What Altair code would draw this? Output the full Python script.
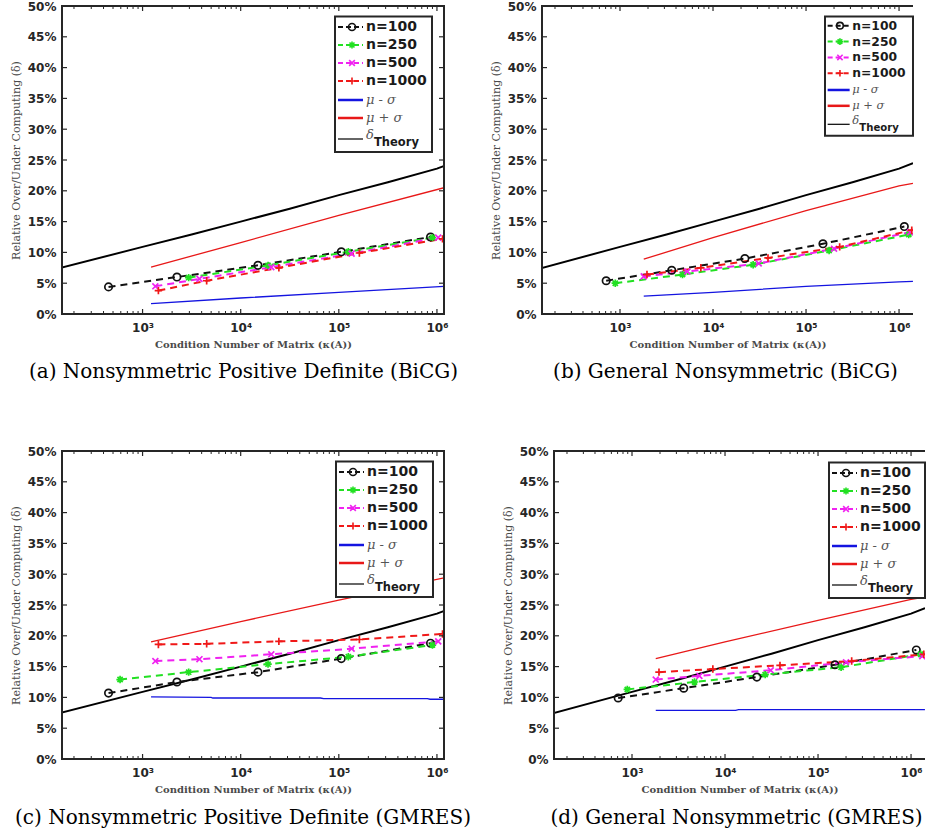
import altair as alt
import pandas as pd

# ---------------- data ----------------
SERIES = ["n=100", "n=250", "n=500", "n=1000"]
SERIES_COLORS = ["#111111", "#22e022", "#f022f0", "#f01818"]
SERIES_SHAPES = [
    "circle",
    "M-1,0L1,0M0,-1L0,1M-0.7,-0.7L0.7,0.7M-0.7,0.7L0.7,-0.7",
    "M-0.8,-0.8L0.8,0.8M-0.8,0.8L0.8,-0.8",
    "M-1,0L1,0M0,-1L0,1",
]
X_TICKS = [1e3, 1e4, 1e5, 1e6]
Y_TICKS = [0, 5, 10, 15, 20, 25, 30, 35, 40, 45, 50]
CAPTIONS = [
    "(a) Nonsymmetric Positive Definite (BiCG)",
    "(b) General Nonsymmetric (BiCG)",
    "(c) Nonsymmetric Positive Definite (GMRES)",
    "(d) General Nonsymmetric (GMRES)",
]

# condition numbers of the test matrices
K_AC_100 = [450, 2240, 15000, 106000, 860000]
K_AC_250 = [590, 2950, 19000, 125000, 900000]
K_AC_500 = [1350, 3800, 20500, 135000, 1030000]
K_AC_1000 = [1450, 4500, 24500, 162000, 1140000]
K_BD_100 = [710, 3600, 22000, 152000, 1140000]
K_BD_250 = [890, 4700, 27000, 177000, 1270000]
K_BD_500 = [1800, 5300, 31000, 200000, 1320000]
K_BD_1000 = [1950, 7400, 39000, 230000, 1370000]

# relative over/under computing (%)
A_100 = [4.4, 6.0, 7.9, 10.1, 12.5]
A_250 = [None, 5.9, 7.9, 10.1, 12.4]
A_500 = [4.5, 5.7, 7.6, 9.8, 12.4]
A_1000 = [3.8, 5.4, 7.5, 9.9, 12.2]
B_100 = [5.4, 7.1, 9.0, 11.4, 14.2]
B_250 = [5.0, 6.4, 8.0, 10.3, 12.9]
B_500 = [6.1, 6.9, 8.2, 10.6, 13.3]
B_1000 = [6.4, 7.5, 9.1, 10.9, 13.6]
C_100 = [10.7, 12.5, 14.1, 16.3, 18.8]
C_250 = [12.9, 14.1, 15.4, 16.6, 18.5]
C_500 = [15.9, 16.2, 17.0, 17.9, 19.1]
C_1000 = [18.6, 18.7, 19.1, 19.4, 20.3]
D_100 = [9.9, 11.5, 13.3, 15.3, 17.7]
D_250 = [11.3, 12.5, 13.7, 14.9, 17.0]
D_500 = [12.9, 13.5, 14.4, 15.7, 16.7]
D_1000 = [14.1, 14.6, 15.2, 15.9, 17.0]

# mu - sigma / mu + sigma lines
A_LO_K = [1220, 10000, 100000, 1180000]
A_LO_V = [1.7, 2.6, 3.5, 4.5]
A_HI_K = [1220, 10000, 100000, 1180000]
A_HI_V = [7.6, 11.6, 16.0, 20.5]
B_LO_K = [1800, 10000, 100000, 1000000, 1410000]
B_LO_V = [2.9, 3.5, 4.5, 5.2, 5.3]
B_HI_K = [1800, 10000, 100000, 1000000, 1410000]
B_HI_V = [8.9, 12.4, 16.8, 20.8, 21.2]
C_LO_K = [1220, 5000, 5200, 65000, 70000, 800000, 850000, 1180000]
C_LO_V = [10.1, 10.0, 9.9, 9.9, 9.8, 9.8, 9.7, 9.7]
C_HI_K = [1220, 10000, 100000, 1180000]
C_HI_V = [19.0, 22.3, 25.8, 29.4]
D_LO_K = [1800, 13000, 14000, 1410000]
D_LO_V = [7.9, 7.9, 8.0, 8.0]
D_HI_K = [1800, 10000, 100000, 1000000, 1410000]
D_HI_V = [16.3, 19.0, 22.5, 25.9, 26.3]

# delta theory
TH_K = [140, 1000, 3162, 10000, 31623, 100000, 316228, 1000000, 1412538]
TH_V = [7.4, 10.9, 12.9, 15.0, 17.1, 19.3, 21.4, 23.6, 24.5]

LEFT_XDOM = [151, 1180000]
RIGHT_XDOM = [145, 1412538]

# ---------------- styling ----------------
FRAME = "#262626"
BLUE = "#1414e0"
RED = "#e81818"
H = 308
W_LEFT = 382
W_RIGHT = 371
ROW_OFF = [10.5, 28.5, 46.5, 64.5, 83.5, 101.5, 122.5]

one = pd.DataFrame({"k": [0]})


def series_df(kappas, values):
    rows = []
    for name, ks, vs in zip(SERIES, kappas, values):
        for k, v in zip(ks, vs):
            if v is not None:
                rows.append({"kappa": k, "value": v, "series": name})
    return pd.DataFrame(rows)


def line_df(ks, vs):
    return pd.DataFrame({"kappa": ks, "value": vs})


def legend_layers(bx, by, s, bw):
    base = alt.Chart(one)
    L = [base.mark_rect(fill="white", stroke=FRAME, strokeWidth=2).encode(
        x=alt.value(bx), x2=alt.value(bx + bw),
        y=alt.value(by), y2=alt.value(by + 135.5 * s))]
    for i, name in enumerate(SERIES):
        yy = by + ROW_OFF[i] * s
        L.append(base.mark_rule(color=SERIES_COLORS[i], strokeWidth=2, strokeDash=[5, 3]).encode(
            x=alt.value(bx + 3 * s), x2=alt.value(bx + 28 * s), y=alt.value(yy)))
        L.append(base.mark_point(shape=SERIES_SHAPES[i], color=SERIES_COLORS[i], filled=False,
                                 size=50 * s, strokeWidth=1.6, opacity=1).encode(
            x=alt.value(bx + 17 * s), y=alt.value(yy)))
        L.append(base.mark_text(text=name, font="DejaVu Sans", fontWeight="bold",
                                fontSize=14 * s, align="left", baseline="middle",
                                color="#1a1a1a").encode(
            x=alt.value(bx + 31 * s), y=alt.value(yy)))
    for j, (txt, col) in enumerate([("μ - σ", BLUE), ("μ + σ", RED)]):
        yy = by + ROW_OFF[4 + j] * s
        L.append(base.mark_rule(color=col, strokeWidth=2.5).encode(
            x=alt.value(bx + 3 * s), x2=alt.value(bx + 28 * s), y=alt.value(yy)))
        L.append(base.mark_text(text=txt, font="DejaVu Serif", fontStyle="italic",
                                fontSize=13 * s, align="left", baseline="middle",
                                color="#555555").encode(
            x=alt.value(bx + 31 * s), y=alt.value(yy)))
    yy = by + ROW_OFF[6] * s
    L.append(base.mark_rule(color="black", strokeWidth=1.2).encode(
        x=alt.value(bx + 3 * s), x2=alt.value(bx + 28 * s), y=alt.value(yy)))
    L.append(base.mark_text(text="δ", font="DejaVu Serif", fontStyle="italic",
                            fontSize=13 * s, align="left", baseline="middle",
                            color="#555555").encode(
        x=alt.value(bx + 31 * s), y=alt.value(by + 118.5 * s)))
    L.append(base.mark_text(text="Theory", font="DejaVu Sans", fontWeight="bold",
                            fontSize=11.5 * s, align="left", baseline="middle",
                            color="#1a1a1a").encode(
        x=alt.value(bx + 39 * s), y=alt.value(by + 126.5 * s)))
    return L


def panel(sdf, lo, hi, xdom, W, caption, dx, toff, leg, right_side):
    xs = alt.Scale(type="log", domain=xdom, nice=False)
    ys = alt.Scale(domain=[0, 50], nice=False)
    xax = alt.Axis(values=X_TICKS, grid=False, domain=False, ticks=False,
                   labelExpr="'10' + (datum.value > 500000 ? '⁶' : datum.value > 50000 ? '⁵' : datum.value > 5000 ? '⁴' : '³')",
                   labelFont="DejaVu Sans", labelFontWeight="bold", labelFontSize=12,
                   labelColor=FRAME, labelPadding=8, labelFlush=False, labelOverlap=False,
                   title="Condition Number of Matrix (κ(A))", titleFont="DejaVu Serif",
                   titleFontWeight="bold", titleFontSize=10, titleColor="#4a4a4a",
                   titlePadding=6)
    yax = alt.Axis(values=Y_TICKS, grid=False, domain=False, ticks=False,
                   labelExpr="datum.value + '%'",
                   labelFont="DejaVu Sans", labelFontWeight="bold", labelFontSize=12,
                   labelColor=FRAME, labelPadding=6, labelFlush=False, labelOverlap=False,
                   title="Relative Over/Under Computing (δ)", titleFont="DejaVu Serif",
                   titleFontWeight="normal", titleFontSize=11, titleColor="#4a4a4a",
                   titlePadding=6)
    X = alt.X("kappa:Q", scale=xs, axis=xax)
    Y = alt.Y("value:Q", scale=ys, axis=yax)

    layers = []
    layers.append(alt.Chart(line_df(TH_K, TH_V)).mark_line(color="black", strokeWidth=2, clip=True)
                  .encode(x=X, y=Y))
    layers.append(alt.Chart(line_df(*lo)).mark_line(color=BLUE, strokeWidth=1.3, clip=True)
                  .encode(x=X, y=Y))
    layers.append(alt.Chart(line_df(*hi)).mark_line(color=RED, strokeWidth=1.3, clip=True)
                  .encode(x=X, y=Y))
    col = alt.Color("series:N", scale=alt.Scale(domain=SERIES, range=SERIES_COLORS), legend=None)
    layers.append(alt.Chart(sdf).mark_line(strokeWidth=2, strokeDash=[7, 5], clip=True)
                  .encode(x=X, y=Y, color=col))
    layers.append(alt.Chart(sdf).mark_point(filled=False, size=55, strokeWidth=1.7, opacity=1, clip=True)
                  .encode(x=X, y=Y, color=col,
                          shape=alt.Shape("series:N", scale=alt.Scale(domain=SERIES, range=SERIES_SHAPES),
                                          legend=None)))

    # inside tick marks (MATLAB style box)
    major = pd.DataFrame({"kappa": X_TICKS})
    minor = pd.DataFrame({"kappa": [m * 10 ** d for d in range(2, 7) for m in range(2, 10)
                                    if xdom[0] < m * 10 ** d < xdom[1]]})
    yt = pd.DataFrame({"value": Y_TICKS[1:-1]})
    layers.append(alt.Chart(major).mark_rule(color=FRAME, strokeWidth=1.2, clip=True)
                  .encode(x=X, y=alt.value(H), y2=alt.value(H - 5)))
    layers.append(alt.Chart(major).mark_rule(color=FRAME, strokeWidth=1.2, clip=True)
                  .encode(x=X, y=alt.value(0), y2=alt.value(5)))
    layers.append(alt.Chart(minor).mark_rule(color=FRAME, strokeWidth=1, clip=True)
                  .encode(x=X, y=alt.value(H), y2=alt.value(H - 3)))
    layers.append(alt.Chart(minor).mark_rule(color=FRAME, strokeWidth=1, clip=True)
                  .encode(x=X, y=alt.value(0), y2=alt.value(3)))
    layers.append(alt.Chart(yt).mark_rule(color=FRAME, strokeWidth=1.2)
                  .encode(y=Y, x=alt.value(0), x2=alt.value(5)))
    if right_side:
        layers.append(alt.Chart(yt).mark_rule(color=FRAME, strokeWidth=1.2)
                      .encode(y=Y, x=alt.value(W), x2=alt.value(W - 5)))

    layers += legend_layers(*leg)

    base = alt.Chart(one)
    layers.append(base.mark_rule(color=FRAME, strokeWidth=2).encode(
        x=alt.value(-1), x2=alt.value(W + (1 if right_side else 0)), y=alt.value(0)))
    layers.append(base.mark_rule(color=FRAME, strokeWidth=2).encode(
        x=alt.value(-1), x2=alt.value(W + (1 if right_side else 0)), y=alt.value(H)))
    layers.append(base.mark_rule(color=FRAME, strokeWidth=2).encode(
        x=alt.value(0), y=alt.value(0), y2=alt.value(H)))
    if right_side:
        layers.append(base.mark_rule(color=FRAME, strokeWidth=2).encode(
            x=alt.value(W), y=alt.value(0), y2=alt.value(H)))

    return alt.layer(*layers).properties(
        width=W, height=H,
        title=alt.TitleParams(caption, orient="bottom", anchor="middle", frame="group",
                              font="DejaVu Serif", fontSize=20, fontWeight="normal",
                              color="black", offset=toff, dx=dx),
    )


pa = panel(series_df([K_AC_100, K_AC_250, K_AC_500, K_AC_1000], [A_100, A_250, A_500, A_1000]),
           (A_LO_K, A_LO_V), (A_HI_K, A_HI_V), LEFT_XDOM, W_LEFT, CAPTIONS[0], -9.5, 13,
           (273, 10.5, 1.0, 97), True)
pb = panel(series_df([K_BD_100, K_BD_250, K_BD_500, K_BD_1000], [B_100, B_250, B_500, B_1000]),
           (B_LO_K, B_LO_V), (B_HI_K, B_HI_V), RIGHT_XDOM, W_RIGHT, CAPTIONS[1], -2, 13,
           (283, 10.5, 0.88, 88), False)
pc = panel(series_df([K_AC_100, K_AC_250, K_AC_500, K_AC_1000], [C_100, C_250, C_500, C_1000]),
           (C_LO_K, C_LO_V), (C_HI_K, C_HI_V), LEFT_XDOM, W_LEFT, CAPTIONS[2], -10, 14,
           (274, 10.5, 1.0, 97), True)
pd_ = panel(series_df([K_BD_100, K_BD_250, K_BD_500, K_BD_1000], [D_100, D_250, D_500, D_1000]),
            (D_LO_K, D_LO_V), (D_HI_K, D_HI_V), RIGHT_XDOM, W_RIGHT, CAPTIONS[3], -3, 14,
            (275, 11.5, 1.0, 96), False)

chart = alt.vconcat(
    alt.hconcat(pa, pb, spacing=31),
    alt.hconcat(pc, pd_, spacing=31),
    spacing=63,
).properties(
    padding={"left": 10, "top": 0, "right": 0, "bottom": 0},
    background="white",
).configure_view(stroke=None)

chart.save("out.html", embed_options={"renderer": "svg", "actions": False})
